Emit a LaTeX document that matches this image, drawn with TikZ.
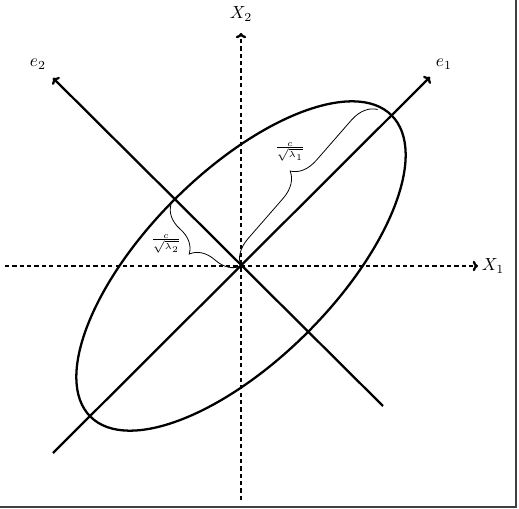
\documentclass[tikz,border=0pt]{standalone}
\usetikzlibrary{decorations.pathreplacing,arrows.meta}
\tikzset{
  axisline/.style={line width=1.3pt, dash pattern=on 2.4pt off 1.8pt, -{To[length=3pt,width=6pt]}},
  eigline/.style={line width=1.3pt, -{To[length=3pt,width=6pt]}},
  ellipseline/.style={line width=1.3pt},
  bracelin/.style={line width=0.45pt, decorate, decoration={brace, amplitude=14.5pt}},
  framelin/.style={line width=1.1pt, draw=black!75}
}
\begin{document}
\begin{tikzpicture}[x=0.57pt,y=0.57pt]
\useasboundingbox (-241,-243) rectangle (278,266);
\coordinate (O) at (0,0);
\coordinate (X1s) at (-236,0);
\coordinate (X1e) at (237,0);
\coordinate (X2s) at (0,-234);
\coordinate (X2e) at (0,233);
\coordinate (E1s) at (-188,-187);
\coordinate (E1e) at (189,189);
\coordinate (E2s) at (142,-140);
\coordinate (E2e) at (-188,188);
\coordinate (B1) at (137,157);
\coordinate (B2) at (-70,62);
% frame edges
\draw[framelin] (275,266) -- (275,-241) -- (-241,-241);
% axes
\draw[axisline] (X1s) -- (X1e);
\draw[axisline] (X2s) -- (X2e);
\node[anchor=west, inner sep=2pt] (lx1) at (X1e) {$X_1$};
\node[anchor=south, inner sep=2pt] (lx2) at (0,241) {$X_2$};
% eigenvector lines
\draw[eigline] (E1s) -- (E1e);
\draw[eigline] (E2s) -- (E2e);
\node (le1) at (203,202) {$e_1$};
\node (le2) at (-203,202) {$e_2$};
% ellipse
\draw[ellipseline, rotate=45] (O) ellipse [x radius=213, y radius=94];
% braces
\draw[bracelin] (O) -- (B1);
\draw[bracelin] (O) -- (B2);
\node[font=\scriptsize, inner sep=0pt] (l1) at (49,114) {$\frac{c}{\sqrt{\lambda_1}}$};
\node[font=\scriptsize, inner sep=0pt] (l2) at (-75,22) {$\frac{c}{\sqrt{\lambda_2}}$};
\end{tikzpicture}
\end{document}
